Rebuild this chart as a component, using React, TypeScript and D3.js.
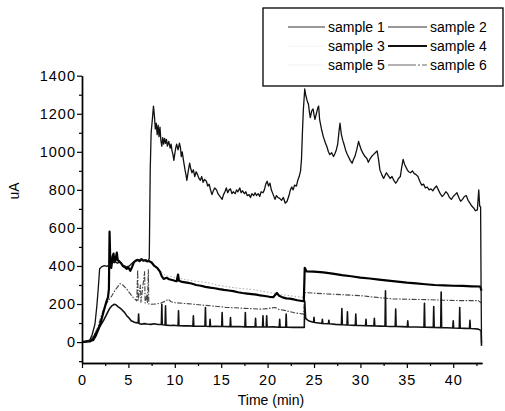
import * as d3 from "d3";
import { useEffect, useRef } from "react";

// time (min) / current (uA) pairs
const sample1: [number, number][] = [
  [0, 0], [0.5, 2], [0.8, 6], [1.1, 40], [1.4, 95], [1.6, 190], [1.75, 280], [1.9, 385], [2.1, 395], [2.4, 402],
  [2.7, 398], [2.9, 405], [3.2, 410], [3.5, 425], [3.8, 415], [4.1, 420], [4.4, 405], [4.8, 395], [5.1, 400], [5.4, 415],
  [5.7, 425], [6.0, 430], [6.3, 435], [6.6, 428], [6.9, 432], [7.1, 425], [7.25, 440], [7.35, 900], [7.45, 1100], [7.6, 1180],
  [7.7, 1240], [7.8, 1190], [7.9, 1120], [8.0, 1150], [8.1, 1090], [8.2, 1140], [8.3, 1080], [8.4, 1130], [8.5, 1060], [8.6, 1030],
  [8.7, 1075], [8.8, 1040], [8.9, 1070], [9.0, 1045], [9.1, 1065], [9.2, 1030], [9.35, 1055], [9.5, 1020], [9.6, 1040], [9.7, 1005],
  [9.8, 985], [9.9, 955], [10.0, 990], [10.1, 1020], [10.2, 1040], [10.35, 1010], [10.5, 1045], [10.6, 1025], [10.7, 975], [10.8, 1000],
  [10.95, 950], [11.1, 905], [11.2, 880], [11.3, 850], [11.45, 900], [11.6, 940], [11.7, 915], [11.85, 890], [12.0, 905], [12.15, 870],
  [12.3, 895], [12.45, 880], [12.6, 860], [12.75, 850], [12.9, 870], [13.05, 840], [13.2, 855], [13.4, 845], [13.55, 820], [13.7, 830],
  [13.85, 800], [14.0, 775], [14.15, 795], [14.3, 810], [14.5, 800], [14.65, 780], [14.8, 770], [14.95, 760], [15.1, 750], [15.25, 775],
  [15.4, 790], [15.55, 810], [15.7, 785], [15.85, 800], [16.0, 805], [16.15, 780], [16.3, 790], [16.5, 780], [16.65, 800], [16.8, 790],
  [17.0, 810], [17.15, 785], [17.3, 795], [17.5, 780], [17.65, 790], [17.8, 770], [18.0, 775], [18.15, 760], [18.3, 780], [18.5, 770],
  [18.65, 785], [18.8, 770], [19.0, 780], [19.15, 765], [19.3, 790], [19.5, 785], [19.65, 800], [19.8, 830], [19.95, 845], [20.1, 820],
  [20.25, 835], [20.4, 800], [20.6, 775], [20.8, 750], [20.95, 770], [21.1, 760], [21.3, 755], [21.5, 745], [21.7, 760], [21.9, 730],
  [22.1, 740], [22.3, 770], [22.45, 800], [22.6, 815], [22.75, 800], [22.9, 825], [23.1, 820], [23.25, 850], [23.4, 870], [23.55, 900],
  [23.65, 960], [23.75, 1100], [23.85, 1220], [24.0, 1330], [24.1, 1300], [24.25, 1270], [24.4, 1250], [24.5, 1210], [24.6, 1180], [24.75, 1215],
  [24.9, 1225], [25.0, 1195], [25.1, 1170], [25.25, 1200], [25.4, 1230], [25.5, 1240], [25.6, 1170], [25.8, 1120], [26.0, 1080], [26.2, 1050],
  [26.4, 1025], [26.55, 1000], [26.7, 985], [26.9, 995], [27.1, 975], [27.25, 990], [27.4, 1010], [27.55, 1040], [27.7, 1110], [27.8, 1150],
  [27.95, 1090], [28.1, 1060], [28.2, 1045], [28.4, 1010], [28.55, 990], [28.7, 975], [28.9, 955], [29.1, 940], [29.25, 960], [29.4, 975],
  [29.6, 1010], [29.8, 1055], [29.95, 1030], [30.1, 1010], [30.3, 990], [30.5, 975], [30.7, 965], [30.85, 945], [31.0, 960], [31.2, 975],
  [31.4, 985], [31.6, 995], [31.8, 1005], [31.95, 960], [32.1, 905], [32.3, 880], [32.5, 860], [32.65, 875], [32.8, 890], [33.0, 875],
  [33.2, 860], [33.4, 870], [33.6, 850], [33.8, 835], [33.95, 845], [34.1, 860], [34.3, 870], [34.45, 920], [34.6, 960], [34.75, 935],
  [34.9, 920], [35.05, 905], [35.2, 895], [35.4, 890], [35.6, 900], [35.8, 885], [36.0, 880], [36.2, 870], [36.4, 845], [36.6, 825],
  [36.8, 830], [37.0, 810], [37.2, 815], [37.4, 800], [37.6, 805], [37.8, 795], [38.0, 810], [38.2, 820], [38.4, 800], [38.6, 780],
  [38.8, 765], [39.0, 775], [39.2, 790], [39.4, 780], [39.6, 760], [39.8, 750], [40.0, 765], [40.2, 775], [40.4, 785], [40.6, 760],
  [40.8, 740], [41.0, 750], [41.2, 765], [41.4, 770], [41.6, 745], [41.8, 730], [42.0, 715], [42.2, 705], [42.4, 690], [42.6, 695],
  [42.75, 800], [42.85, 715], [42.95, 710], [43.0, 300], [43.05, -5],
];

const sample2: [number, number][] = [
  [0, 0], [0.9, 2], [1.2, 20], [1.4, 42], [1.7, 62], [1.9, 80], [2.3, 112], [2.6, 140], [2.8, 160], [3.0, 178],
  [3.2, 190], [3.5, 199], [3.7, 194], [3.9, 185], [4.1, 178], [4.3, 170], [4.6, 155], [4.8, 140], [5.0, 130], [5.3, 112],
  [5.6, 105], [5.8, 102], [6.05, 100], [6.1, 147], [6.15, 98], [6.4, 94], [6.7, 97], [7.0, 95], [7.4, 93], [7.8, 96],
  [8.2, 92], [8.55, 93], [8.6, 199], [8.65, 91], [8.95, 90], [9.0, 190], [9.05, 89], [9.5, 87], [9.9, 88], [10.35, 86],
  [10.4, 164], [10.45, 86], [11.0, 85], [11.5, 86], [11.95, 84], [12.0, 138], [12.05, 84], [12.6, 83], [13.25, 84], [13.3, 182],
  [13.35, 83], [13.75, 82], [13.8, 120], [13.85, 82], [14.4, 83], [15.05, 82], [15.1, 155], [15.15, 82], [15.95, 81], [16.0, 129],
  [16.05, 81], [16.8, 82], [17.55, 80], [17.6, 155], [17.65, 80], [18.65, 80], [18.7, 125], [18.75, 80], [19.45, 79], [19.5, 138],
  [19.55, 79], [19.85, 79], [19.9, 138], [19.95, 79], [20.6, 80], [21.25, 78], [21.3, 120], [21.35, 78], [21.95, 78], [22.0, 147],
  [22.05, 78], [22.8, 77], [23.5, 78], [23.95, 77], [24.0, 216], [24.1, 125], [24.4, 112], [24.9, 104], [24.95, 104], [25.0, 130],
  [25.05, 103], [25.5, 100], [25.85, 98], [25.9, 120], [25.95, 98], [26.55, 96], [26.6, 115], [26.65, 96], [27.3, 93], [27.95, 91],
  [28.0, 176], [28.05, 91], [28.55, 90], [28.6, 159], [28.65, 90], [29.45, 88], [29.5, 147], [29.55, 88], [30.0, 87], [30.55, 86],
  [30.6, 120], [30.65, 86], [31.45, 85], [31.5, 125], [31.55, 85], [32.1, 84], [32.65, 83], [32.7, 269], [32.75, 83], [33.2, 82],
  [33.75, 82], [33.8, 173], [33.85, 82], [34.5, 81], [35.05, 80], [35.1, 112], [35.15, 80], [36.0, 79], [36.85, 78], [36.9, 204],
  [36.95, 78], [37.85, 77], [37.9, 187], [37.95, 77], [38.65, 76], [38.7, 263], [38.75, 76], [39.3, 75], [39.95, 74], [40.0, 112],
  [40.05, 74], [40.65, 73], [40.7, 181], [40.75, 73], [41.3, 72], [41.75, 71], [41.8, 115], [41.85, 71], [42.3, 70], [42.7, 68],
  [43.0, 60], [43.05, -20],
];

const sample3: [number, number][] = [];

const sample4: [number, number][] = [
  [0, 0], [1.2, 10], [1.5, 35], [1.7, 59], [2.0, 100], [2.3, 155], [2.6, 208], [2.8, 235], [2.9, 280], [2.97, 580],
  [3.05, 420], [3.15, 390], [3.3, 450], [3.4, 465], [3.5, 420], [3.6, 430], [3.75, 470], [3.85, 430], [4.0, 425], [4.2, 415],
  [4.4, 400], [4.6, 395], [4.8, 385], [5.0, 392], [5.2, 375], [5.4, 395], [5.6, 420], [5.8, 428], [6.0, 432], [6.2, 425],
  [6.4, 436], [6.6, 428], [6.8, 430], [7.0, 424], [7.2, 426], [7.5, 418], [7.8, 400], [8.1, 390], [8.4, 370], [8.6, 345],
  [8.8, 332], [9.1, 338], [9.4, 330], [9.7, 326], [10.0, 322], [10.2, 320], [10.35, 355], [10.45, 322], [10.8, 316], [11.3, 312],
  [11.8, 308], [12.3, 300], [12.8, 296], [13.3, 290], [13.8, 286], [14.3, 283], [14.8, 278], [15.3, 274], [15.8, 271], [16.3, 268],
  [16.8, 262], [17.3, 258], [17.8, 255], [18.3, 252], [18.8, 249], [19.2, 245], [19.7, 242], [20.2, 238], [20.6, 236], [21.0, 258],
  [21.2, 245], [21.6, 235], [22.0, 230], [22.4, 228], [22.8, 224], [23.2, 220], [23.7, 216], [23.9, 215], [24.0, 390], [24.2, 372],
  [25.0, 370], [26.0, 366], [27.0, 360], [28.0, 352], [29.0, 346], [30.0, 339], [31.0, 334], [32.0, 328], [33.0, 323], [34.0, 318],
  [35.0, 312], [36.0, 308], [37.0, 304], [38.0, 300], [39.0, 298], [40.0, 296], [41.0, 295], [42.0, 293], [42.9, 292], [43.05, 270],
];

const sample5: [number, number][] = [
  [8.0, 395], [9.0, 350], [10.0, 340], [11.0, 330], [12.0, 321], [13.4, 314], [14.5, 300], [15.5, 292], [16.5, 285], [17.5, 280],
  [18.5, 276], [19.5, 266], [20.5, 258], [21.5, 250], [22.5, 243], [23.9, 235],
];

const sample6: [number, number][] = [
  [0, 0], [0.9, 5], [1.0, 16], [1.4, 45], [1.7, 77], [2.0, 125], [2.4, 182], [2.8, 215], [3.2, 242], [3.6, 275],
  [4.1, 307], [4.4, 300], [4.8, 280], [5.1, 260], [5.5, 235], [5.9, 216], [6.0, 380], [6.05, 220], [6.3, 300], [6.35, 210],
  [6.75, 370], [6.8, 205], [7.0, 250], [7.05, 203], [7.15, 380], [7.2, 200], [7.5, 199], [8.0, 200], [8.5, 205], [9.0, 215],
  [9.3, 225], [9.6, 212], [10.0, 207], [11.0, 203], [12.0, 199], [13.0, 194], [14.0, 190], [15.0, 185], [15.6, 182], [16.5, 180],
  [17.5, 177], [18.5, 175], [19.2, 173], [20.0, 176], [20.8, 182], [21.2, 172], [22.0, 165], [22.8, 155], [23.4, 150], [23.9, 147],
  [24.0, 260], [25.0, 257], [26.4, 253], [28.0, 249], [30.0, 244], [31.5, 236], [33.5, 227], [35.0, 225], [37.1, 223], [39.0, 220],
  [40.7, 218], [42.7, 218], [43.05, 205],
];

const seriesNames = ["sample 1", "sample 2", "sample 3", "sample 4", "sample 5", "sample 6"];
const seriesData = [sample1, sample2, sample3, sample4, sample5, sample6];

const xTicks = [0, 5, 10, 15, 20, 25, 30, 35, 40];
const xMinor = [2.5, 7.5, 12.5, 17.5, 22.5, 27.5, 32.5, 37.5, 42.5];
const yTicks = [0, 200, 400, 600, 800, 1000, 1200, 1400];
const yMinor = [-100, 100, 300, 500, 700, 900, 1100, 1300];

export default function App() {
  const ref = useRef<SVGSVGElement>(null);

  useEffect(() => {
    const svg = d3.select(ref.current);
    svg.selectAll("*").remove();

    const x = d3.scaleLinear().domain([0, 43.1]).range([82, 482]);
    const y = d3.scaleLinear().domain([-110, 1400]).range([363, 75.7]);

    const font = "Arial, 'Liberation Sans', sans-serif";

    // line looks, same order as seriesNames
    const looks = [
      { color: "#111", width: 1.3, dash: "" },
      { color: "#111", width: 1.6, dash: "" },
      { color: "#eeeeee", width: 1, dash: "" },
      { color: "#000", width: 2.2, dash: "" },
      { color: "#aaa", width: 1, dash: "1.5,2" },
      { color: "#444", width: 1.1, dash: "5,1.5,1.5,1.5" },
    ];

    const line = d3
      .line<[number, number]>()
      .x((d) => x(d[0]))
      .y((d) => y(d[1]));

    // draw order: faint ones first
    [4, 2, 5, 1, 3, 0].forEach((i) => {
      if (!seriesData[i].length) return;
      svg
        .append("path")
        .datum(seriesData[i])
        .attr("d", line)
        .attr("fill", "none")
        .attr("stroke", looks[i].color)
        .attr("stroke-width", looks[i].width)
        .attr("stroke-dasharray", looks[i].dash)
        .attr("stroke-linejoin", "round");
    });

    // x axis
    const gx = svg.append("g").attr("transform", "translate(0,363)");
    gx.call(d3.axisBottom(x).tickValues(xTicks).tickSize(5).tickSizeOuter(0).tickPadding(7).tickFormat(d3.format("d")));
    gx.append("g").call(
      d3.axisBottom(x).tickValues(xMinor).tickSize(3).tickSizeOuter(0).tickFormat(() => "")
    );

    // y axis
    const gy = svg.append("g").attr("transform", "translate(82,0)");
    gy.call(d3.axisLeft(y).tickValues(yTicks).tickSize(5).tickSizeOuter(0).tickPadding(1).tickFormat(d3.format("d")));
    gy.append("g").call(
      d3.axisLeft(y).tickValues(yMinor).tickSize(3).tickSizeOuter(0).tickFormat(() => "")
    );

    svg.selectAll(".domain").attr("stroke", "#000").attr("stroke-width", 1.4);
    svg.selectAll(".tick line").attr("stroke", "#000").attr("stroke-width", 1.2);
    svg
      .selectAll(".tick text")
      .attr("fill", "#000")
      .style("font-family", font)
      .style("font-size", "14.5px")
      .style("letter-spacing", "1px");

    svg
      .append("text")
      .attr("x", 271)
      .attr("y", 405)
      .attr("text-anchor", "middle")
      .style("font-family", font)
      .style("font-size", "14px")
      .text("Time (min)");

    svg
      .append("text")
      .attr("transform", "translate(18.5,191) rotate(-90)")
      .attr("text-anchor", "middle")
      .style("font-family", font)
      .style("font-size", "14px")
      .text("uA");

    // legend
    const lg = svg.append("g");
    lg.append("rect")
      .attr("x", 263)
      .attr("y", 8)
      .attr("width", 240)
      .attr("height", 78)
      .attr("fill", "#fff")
      .attr("stroke", "#000")
      .attr("stroke-width", 1.3);

    const legendLooks = [
      { color: "#333", width: 1, dash: "" },
      { color: "#333", width: 1.1, dash: "" },
      { color: "#f2f2f2", width: 1, dash: "" },
      { color: "#111", width: 1.8, dash: "" },
      { color: "#f2f2f2", width: 1, dash: "" },
      { color: "#666", width: 1, dash: "28,2,2,2" },
    ];

    seriesNames.forEach((name, i) => {
      const col = i % 2;
      const row = Math.floor(i / 2);
      const cy = 27 + row * 19;
      const x0 = col === 0 ? 288 : 388;
      const x1 = col === 0 ? 325 : 427;
      lg.append("line")
        .attr("x1", x0)
        .attr("x2", x1)
        .attr("y1", cy)
        .attr("y2", cy)
        .attr("stroke", legendLooks[i].color)
        .attr("stroke-width", legendLooks[i].width)
        .attr("stroke-dasharray", legendLooks[i].dash);
      lg.append("text")
        .attr("x", col === 0 ? 328 : 430)
        .attr("y", cy + 5)
        .style("font-family", font)
        .style("font-size", "14px")
        .text(name);
    });
  }, []);

  return (
    <svg
      ref={ref}
      width={505}
      height={411}
      style={{ position: "absolute", left: 0, top: 0, background: "#fff" }}
    ></svg>
  );
}
